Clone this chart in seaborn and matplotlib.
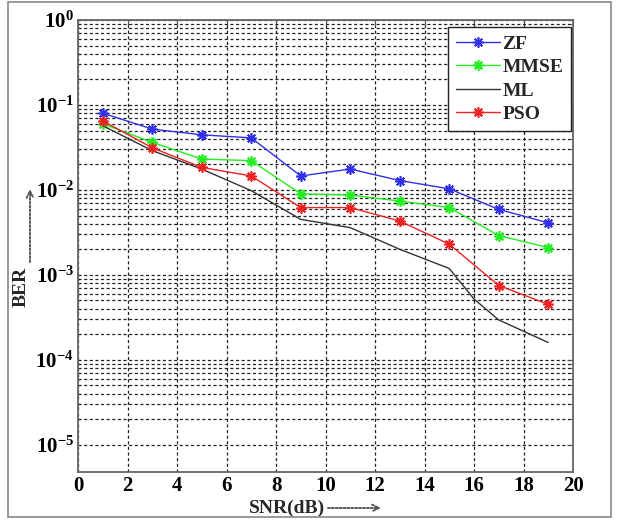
import numpy as np
import pandas as pd
import matplotlib
matplotlib.use("Agg")
import matplotlib.pyplot as plt
import matplotlib.ticker as mticker
from matplotlib.patches import Rectangle
import seaborn as sns

# ---- data ----
snr = [1, 3, 5, 7, 9, 11, 13, 15, 17, 19]
ber_zf = [0.080, 0.052, 0.0445, 0.041, 0.0146, 0.0176, 0.0129, 0.0103, 0.0059, 0.0041]
ber_mmse = [0.060, 0.0363, 0.0231, 0.0221, 0.0090, 0.0087, 0.0074, 0.0062, 0.0029, 0.0021]
ber_pso = [0.065, 0.0313, 0.0184, 0.0146, 0.0062, 0.0062, 0.0043, 0.0023, 0.00075, 0.00045]
snr_ml = [1, 3, 5, 7, 9, 11, 13, 15, 16, 17, 19]
ber_ml = [0.057, 0.029, 0.0176, 0.0098, 0.0045, 0.0036, 0.0020, 0.00119, 0.00052, 0.000295, 0.00016]
series_names = ["ZF", "MMSE", "ML", "PSO"]
x_ticks = [0, 2, 4, 6, 8, 10, 12, 14, 16, 18, 20]

sns.set_style("white")
plt.rcParams["font.family"] = ["Liberation Serif", "DejaVu Serif"]
plt.rcParams["font.weight"] = "bold"
plt.rcParams["mathtext.fontset"] = "custom"
plt.rcParams["mathtext.rm"] = "Liberation Serif:bold"
plt.rcParams["mathtext.it"] = "Liberation Serif:bold"
plt.rcParams["mathtext.bf"] = "Liberation Serif:bold"
plt.rcParams["mathtext.default"] = "rm"

fig = plt.figure(figsize=(6.19, 5.2), dpi=100)
ax = fig.add_axes([78 / 619, 1 - 472 / 520, (573 - 78) / 619, (472 - 20) / 520])

ast = (8, 2, 0)
mk = dict(marker=ast, ms=7.5, mew=1.2)
sns.lineplot(x=snr, y=ber_zf, ax=ax, color="#3030e8", lw=1.0,
             mec="#3030e8", label=series_names[0], **mk)
sns.lineplot(x=snr, y=ber_mmse, ax=ax, color="#22ee22", lw=1.0,
             mec="#22ee22", label=series_names[1], **mk)
sns.lineplot(x=snr_ml, y=ber_ml, ax=ax, color="#333333", lw=1.0,
             label=series_names[2])
sns.lineplot(x=snr, y=ber_pso, ax=ax, color="#ee2222", lw=1.0,
             mec="#ee2222", label=series_names[3], **mk)

ax.set_yscale("log")
ax.set_xlim(0, 20)
ax.set_ylim(10 ** -5.32, 1)
ax.set_xticks(x_ticks)
ax.yaxis.set_major_locator(mticker.FixedLocator([10.0 ** k for k in range(-5, 1)]))
ax.yaxis.set_major_formatter(mticker.LogFormatterMathtext())
minor = [m * 10.0 ** k for k in range(-5, 0) for m in range(2, 10)]
ax.yaxis.set_minor_locator(mticker.FixedLocator(minor))
ax.yaxis.set_minor_formatter(mticker.NullFormatter())

gkw = dict(color="#222222", linestyle=(0, (2.5, 2)), linewidth=0.9)
ax.grid(True, which="major", axis="both", **gkw)
ax.grid(True, which="minor", axis="y", **gkw)
ax.set_axisbelow(True)

ax.tick_params(axis="both", which="major", direction="in", length=4,
               labelsize=15, width=0.8, colors="#555555", labelcolor="black",
               top=True, right=True, pad=3)
ax.tick_params(axis="y", which="minor", direction="in", length=2, width=0.6,
               colors="#555555", right=True)
for lab in ax.get_xticklabels() + ax.get_yticklabels():
    lab.set_fontweight("bold")
for s in ax.spines.values():
    s.set_color("#666666")
    s.set_linewidth(1.3)
    s.set_visible(True)

ax.set_xlabel("SNR(dB)", fontsize=14, fontweight="bold")
ax.xaxis.set_label_coords(0.422, -0.062)
ax.set_ylabel("BER", fontsize=14, fontweight="bold")
ax.yaxis.set_label_coords(-0.097, 0.41)

# dotted arrows next to the axis labels
ax.annotate("", xy=(381 / 619, 1 - 508 / 520), xytext=(328 / 619, 1 - 508 / 520),
            xycoords="figure fraction", textcoords="figure fraction",
            arrowprops=dict(arrowstyle="->", linestyle=(0, (1, 1)), lw=1.4,
                            color="#555555", shrinkA=0, shrinkB=0,
                            mutation_scale=12))
ax.annotate("", xy=(30 / 619, 1 - 189 / 520), xytext=(30 / 619, 1 - 262 / 520),
            xycoords="figure fraction", textcoords="figure fraction",
            arrowprops=dict(arrowstyle="->", linestyle=(0, (1, 1)), lw=1.4,
                            color="#555555", shrinkA=0, shrinkB=0,
                            mutation_scale=12))

leg = ax.legend(loc="upper right", bbox_to_anchor=(0.996, 0.984),
                prop=dict(family="Liberation Serif", weight="bold", size=14),
                fancybox=False, framealpha=1, edgecolor="#222222",
                handlelength=2.3, handletextpad=0.1, labelspacing=0.3,
                borderpad=0.4, borderaxespad=0.0)
leg.get_frame().set_linewidth(1.0)

fig.patches.append(Rectangle((8 / 619, 3 / 520), 603 / 619, 515 / 520,
                             transform=fig.transFigure, fill=False,
                             edgecolor="#888888", lw=1.2))

fig.savefig("out.png", dpi=100)
